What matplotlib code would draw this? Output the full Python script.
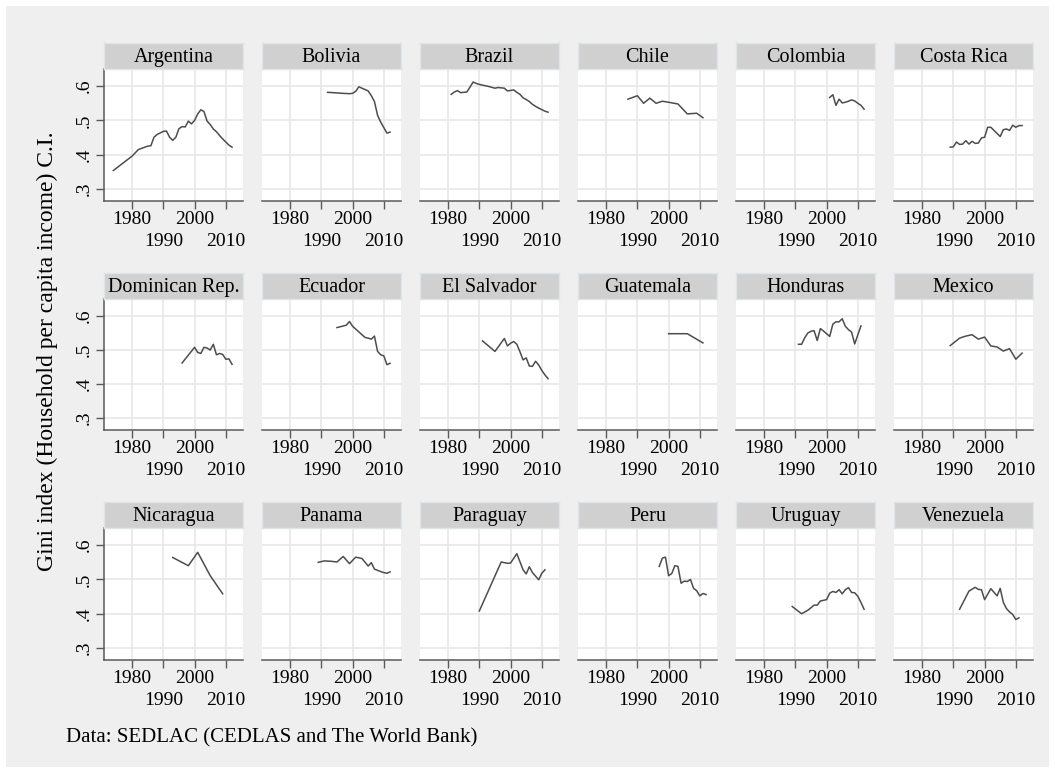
import matplotlib.pyplot as plt
from matplotlib.patches import Rectangle

plt.rcParams['font.family'] = ['Liberation Serif', 'DejaVu Serif']

# --- data (Gini index, household per capita income) ---
argentina_years = [1974, 1980, 1982, 1985, 1986, 1987, 1988, 1990, 1991, 1992, 1993, 1994, 1995, 1996, 1997,
                   1998, 1999, 2000, 2001, 2002, 2003, 2004, 2005, 2006, 2007, 2008, 2009, 2010, 2011, 2012]
argentina_gini = [0.354, 0.396, 0.415, 0.425, 0.426, 0.451, 0.459, 0.468, 0.469, 0.451, 0.442, 0.451, 0.476, 0.482,
                  0.481, 0.498, 0.490, 0.500, 0.519, 0.531, 0.526, 0.498, 0.488, 0.475, 0.467, 0.456, 0.446, 0.437,
                  0.428, 0.422]
bolivia_years = [1992, 1997, 1999, 2000, 2001, 2002, 2005, 2006, 2007, 2008, 2009, 2011, 2012]
bolivia_gini = [0.582, 0.579, 0.578, 0.579, 0.585, 0.598, 0.586, 0.572, 0.555, 0.515, 0.495, 0.463, 0.466]
brazil_years = [1981, 1982, 1983, 1984, 1985, 1986, 1987, 1988, 1989, 1990, 1992, 1993, 1995, 1996, 1997, 1998,
                1999, 2001, 2002, 2003, 2004, 2005, 2006, 2007, 2008, 2009, 2011, 2012]
brazil_gini = [0.576, 0.583, 0.587, 0.581, 0.582, 0.583, 0.597, 0.612, 0.608, 0.605, 0.601, 0.599, 0.594, 0.596,
               0.595, 0.594, 0.586, 0.589, 0.582, 0.576, 0.566, 0.561, 0.555, 0.547, 0.541, 0.536, 0.527, 0.524]
chile_years = [1987, 1990, 1992, 1994, 1996, 1998, 2000, 2003, 2006, 2009, 2011]
chile_gini = [0.562, 0.572, 0.550, 0.565, 0.550, 0.556, 0.553, 0.548, 0.519, 0.521, 0.508]
colombia_years = [2001, 2002, 2003, 2004, 2005, 2006, 2007, 2008, 2009, 2010, 2011, 2012]
colombia_gini = [0.567, 0.575, 0.544, 0.562, 0.551, 0.553, 0.556, 0.560, 0.557, 0.550, 0.544, 0.533]
costarica_years = [1989, 1990, 1991, 1992, 1993, 1994, 1995, 1996, 1997, 1998, 1999, 2000, 2001, 2002, 2003,
                   2004, 2005, 2006, 2007, 2008, 2009, 2010, 2011, 2012]
costarica_gini = [0.422, 0.423, 0.437, 0.430, 0.431, 0.441, 0.431, 0.439, 0.433, 0.434, 0.449, 0.451, 0.480, 0.480,
                  0.471, 0.462, 0.453, 0.473, 0.475, 0.471, 0.486, 0.480, 0.485, 0.485]
dominican_years = [1996, 2000, 2001, 2002, 2003, 2004, 2005, 2006, 2007, 2008, 2009, 2010, 2011, 2012]
dominican_gini = [0.462, 0.508, 0.493, 0.490, 0.508, 0.506, 0.500, 0.517, 0.486, 0.490, 0.487, 0.473, 0.474, 0.458]
ecuador_years = [1995, 1998, 1999, 2000, 2003, 2004, 2005, 2006, 2007, 2008, 2009, 2010, 2011, 2012]
ecuador_gini = [0.566, 0.573, 0.584, 0.570, 0.545, 0.537, 0.535, 0.532, 0.541, 0.496, 0.486, 0.483, 0.457, 0.461]
elsalvador_years = [1991, 1995, 1998, 1999, 2000, 2001, 2002, 2003, 2004, 2005, 2006, 2007, 2008, 2009, 2010,
                    2011, 2012]
elsalvador_gini = [0.527, 0.496, 0.534, 0.512, 0.520, 0.525, 0.517, 0.495, 0.471, 0.477, 0.453, 0.452, 0.467,
                   0.456, 0.440, 0.427, 0.416]
guatemala_years = [2000, 2006, 2011]
guatemala_gini = [0.548, 0.548, 0.521]
honduras_years = [1991, 1992, 1993, 1994, 1995, 1996, 1997, 1998, 1999, 2001, 2002, 2003, 2004, 2005, 2006, 2007,
                  2008, 2009, 2011]
honduras_gini = [0.517, 0.517, 0.536, 0.550, 0.555, 0.557, 0.528, 0.563, 0.556, 0.540, 0.576, 0.583, 0.583, 0.592,
                 0.570, 0.560, 0.553, 0.518, 0.571]
mexico_years = [1989, 1992, 1994, 1996, 1998, 2000, 2002, 2004, 2006, 2008, 2010, 2012]
mexico_gini = [0.513, 0.535, 0.541, 0.545, 0.532, 0.538, 0.512, 0.509, 0.497, 0.504, 0.473, 0.491]
nicaragua_years = [1993, 1998, 2001, 2005, 2009]
nicaragua_gini = [0.564, 0.540, 0.579, 0.511, 0.458]
panama_years = [1989, 1991, 1993, 1995, 1997, 1999, 2001, 2003, 2005, 2006, 2007, 2009, 2010, 2011, 2012]
panama_gini = [0.550, 0.554, 0.553, 0.551, 0.567, 0.546, 0.565, 0.561, 0.539, 0.549, 0.530, 0.523, 0.520, 0.518,
               0.522]
paraguay_years = [1990, 1997, 1999, 2000, 2002, 2004, 2005, 2006, 2007, 2009, 2010, 2011]
paraguay_gini = [0.408, 0.551, 0.547, 0.548, 0.575, 0.528, 0.516, 0.537, 0.520, 0.499, 0.518, 0.528]
peru_years = [1997, 1998, 1999, 2000, 2001, 2002, 2003, 2004, 2005, 2006, 2007, 2008, 2009, 2010, 2011, 2012]
peru_gini = [0.538, 0.562, 0.565, 0.511, 0.517, 0.540, 0.538, 0.489, 0.495, 0.494, 0.500, 0.474, 0.467, 0.452,
             0.459, 0.456]
uruguay_years = [1989, 1992, 1994, 1996, 1997, 1998, 2000, 2001, 2002, 2003, 2004, 2005, 2006, 2007, 2008, 2009,
                 2010, 2011, 2012]
uruguay_gini = [0.421, 0.400, 0.410, 0.425, 0.425, 0.437, 0.441, 0.460, 0.465, 0.462, 0.470, 0.458, 0.470, 0.476,
                0.462, 0.461, 0.451, 0.433, 0.413]
venezuela_years = [1992, 1995, 1997, 1998, 1999, 2000, 2002, 2004, 2005, 2006, 2007, 2008, 2009, 2010, 2011]
venezuela_gini = [0.413, 0.466, 0.477, 0.471, 0.470, 0.441, 0.473, 0.452, 0.474, 0.433, 0.415, 0.405, 0.398, 0.383,
                  0.388]

countries = ['Argentina', 'Bolivia', 'Brazil', 'Chile', 'Colombia', 'Costa Rica',
             'Dominican Rep.', 'Ecuador', 'El Salvador', 'Guatemala', 'Honduras', 'Mexico',
             'Nicaragua', 'Panama', 'Paraguay', 'Peru', 'Uruguay', 'Venezuela']
series = [(argentina_years, argentina_gini), (bolivia_years, bolivia_gini), (brazil_years, brazil_gini),
          (chile_years, chile_gini), (colombia_years, colombia_gini), (costarica_years, costarica_gini),
          (dominican_years, dominican_gini), (ecuador_years, ecuador_gini), (elsalvador_years, elsalvador_gini),
          (guatemala_years, guatemala_gini), (honduras_years, honduras_gini), (mexico_years, mexico_gini),
          (nicaragua_years, nicaragua_gini), (panama_years, panama_gini), (paraguay_years, paraguay_gini),
          (peru_years, peru_gini), (uruguay_years, uruguay_gini), (venezuela_years, venezuela_gini)]

y_ticks = [0.3, 0.4, 0.5, 0.6]
y_labels = ['.3', '.4', '.5', '.6']

# --- layout (pixels) ---
W, H = 1055, 773
fig = plt.figure(figsize=(W / 100, H / 100), dpi=100, facecolor='white')
fig.patches.append(Rectangle((6 / W, 6 / H), (W - 12) / W, (H - 12) / H, transform=fig.transFigure,
                             facecolor='#efefef', edgecolor='none', zorder=-10))

panel_w = 139
strip_h = 26
lefts = [104 + 158 * c for c in range(6)]
strip_tops = [43, 273, 502]
bottoms = [201, 430, 660]
line_col = '#4d4d4d'
axis_col = '#5a5a5a'

for i, name in enumerate(countries):
    r, c = divmod(i, 6)
    x0 = lefts[c]
    top = strip_tops[r] + strip_h
    h = bottoms[r] - top
    ax = fig.add_axes([x0 / W, (H - bottoms[r]) / H, panel_w / W, h / H])
    ax.set_facecolor('white')
    yrs, vals = series[i]
    ax.plot(yrs, vals, color=line_col, lw=1.1, zorder=3)
    ax.set_xlim(1971, 2015.5)
    ax.set_ylim(0.265, 0.65)
    ax.set_xticks([1980, 2000])
    ax.set_xticklabels(['1980', '2000'])
    ax.set_xticks([1990, 2010], minor=True)
    ax.set_xticklabels(['1990', '2010'], minor=True)
    ax.set_yticks(y_ticks)
    ax.grid(True, which='both', color='#e6e6e6', lw=1.1, zorder=0)
    ax.set_axisbelow(True)
    ax.tick_params(axis='x', which='both', length=6, width=1.0, color=axis_col, labelsize=14)
    ax.tick_params(axis='x', which='major', pad=1)
    ax.tick_params(axis='x', which='minor', pad=17)
    for s in ['top', 'right']:
        ax.spines[s].set_visible(False)
    ax.spines['bottom'].set_color(axis_col)
    ax.spines['bottom'].set_linewidth(1.1)
    if c == 0:
        ax.set_yticklabels(y_labels)
        ax.tick_params(axis='y', length=6, width=1.0, color=axis_col, labelsize=14, labelrotation=90, pad=2)
        for lab in ax.get_yticklabels():
            lab.set_va('center')
        ax.spines['left'].set_color(axis_col)
        ax.spines['left'].set_linewidth(1.1)
    else:
        ax.tick_params(axis='y', length=0, labelleft=False)
        ax.spines['left'].set_visible(False)

    # panel title strip
    sax = fig.add_axes([x0 / W, (H - top) / H, panel_w / W, strip_h / H])
    sax.set_facecolor('#d0d0d0')
    sax.set_xticks([])
    sax.set_yticks([])
    for s in sax.spines.values():
        s.set_color('#dbe5ea')
        s.set_linewidth(1.0)
    sax.text(0.5, 0.45, name, ha='center', va='center', fontsize=14.5, transform=sax.transAxes)

fig.text(47 / W, 1 - 351 / H, 'Gini index (Household per capita income) C.I.', rotation=90,
         ha='center', va='center', fontsize=17)
fig.text(66 / W, 1 - 738 / H, 'Data: SEDLAC (CEDLAS and The World Bank)', ha='left', va='center', fontsize=15)

fig.savefig('out.png', dpi=100, facecolor=fig.get_facecolor())
